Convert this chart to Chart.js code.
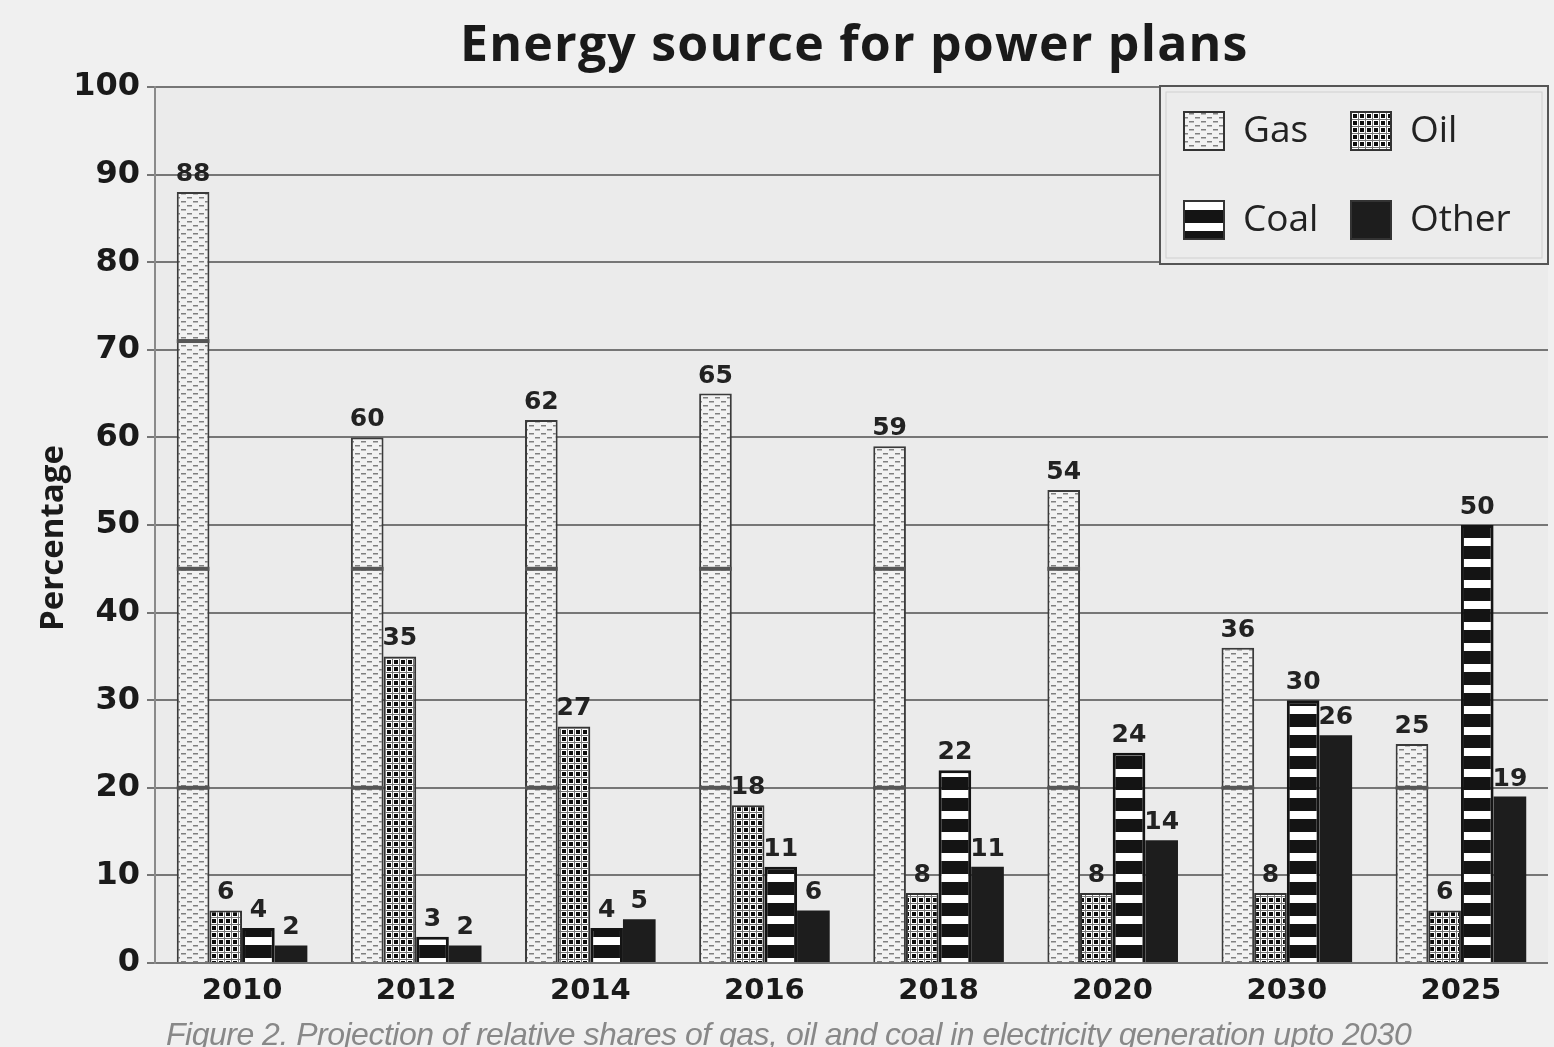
<!DOCTYPE html>
<html>
<head>
<meta charset="utf-8">
<script src="https://cdn.jsdelivr.net/npm/chart.js@4.4.1/dist/chart.umd.min.js"></script>
<style>
  html, body { margin: 0; padding: 0; background: #f0f0f0; overflow: hidden; }
  #wrap { position: relative; width: 1554px; height: 1047px; }
  #caption {
    position: absolute; left: 166px; top: 1016px;
    font-family: "Liberation Sans", sans-serif;
    font-style: italic; font-size: 32px; color: #888; white-space: nowrap;
    letter-spacing: -0.5px;
  }
</style>
</head>
<body>
<div id="wrap">
  <canvas id="energy_chart" width="1554" height="1047"></canvas>
  <div id="caption">Figure 2. Projection of relative shares of gas, oil and coal in electricity generation upto 2030</div>
</div>
<script>
var chart_title = "Energy source for power plans";
var y_title = "Percentage";
var years = ["2010", "2012", "2014", "2016", "2018", "2020", "2030", "2025"];
var gas_data = [88, 60, 62, 65, 59, 54, 36, 25];
var oil_data = [6, 35, 27, 18, 8, 8, 8, 6];
var coal_data = [4, 3, 4, 11, 22, 24, 30, 50];
var other_data = [2, 2, 5, 6, 11, 14, 26, 19];
var y_ticks = [0, 10, 20, 30, 40, 50, 60, 70, 80, 90, 100];
// dark seams seen across the gas bars
var gas_seams = [20, 45, 71];

function tile(w, h, draw) {
    var c = document.createElement("canvas");
    c.width = w; c.height = h;
    var g = c.getContext("2d");
    draw(g);
    return g.createPattern(c, "repeat");
}

var gasFill = tile(12, 8, function (g) {
    g.fillStyle = "#f2f2f2"; g.fillRect(0, 0, 12, 8);
    g.fillStyle = "#808080";
    g.fillRect(1, 1, 5, 1.5);
    g.fillRect(7, 5, 5, 1.5);
});
var oilFill = tile(7, 7, function (g) {
    g.fillStyle = "#ffffff"; g.fillRect(0, 0, 7, 7);
    g.fillStyle = "#777";
    g.fillRect(0, 0, 7, 1); g.fillRect(0, 0, 1, 7);
    g.fillStyle = "#0c0c0c";
    g.fillRect(2, 2, 4, 4);
});
var coalFill = tile(4, 21, function (g) {
    g.fillStyle = "#141414"; g.fillRect(0, 0, 4, 13);
    g.fillStyle = "#ffffff"; g.fillRect(0, 13, 4, 8);
});

var plotBg = {
    id: "plotBg",
    beforeDraw: function (chart) {
        var a = chart.chartArea, ctx = chart.ctx;
        ctx.save();
        ctx.fillStyle = "#ebebeb";
        ctx.fillRect(a.left, a.top, a.right - a.left, a.bottom - a.top);
        ctx.restore();
    }
};

var titles = {
    id: "titles",
    afterDraw: function (chart) {
        var ctx = chart.ctx, a = chart.chartArea;
        ctx.save();
        ctx.fillStyle = "#1a1a1a";
        ctx.font = "bold 50px 'Open Sans'";
        ctx.letterSpacing = "1.2px";
        ctx.textAlign = "left";
        ctx.textBaseline = "alphabetic";
        ctx.fillText(chart_title, 460, 61);
        ctx.letterSpacing = "0px";
        ctx.font = "bold 33px 'Open Sans'";
        ctx.translate(54, (a.top + a.bottom) / 2 + 13);
        ctx.rotate(-Math.PI / 2);
        ctx.textAlign = "center";
        ctx.textBaseline = "middle";
        ctx.fillText(y_title, 0, 0);
        ctx.restore();
    }
};

var seams = {
    id: "seams",
    afterDatasetsDraw: function (chart) {
        var ctx = chart.ctx, y = chart.scales.y;
        var meta = chart.getDatasetMeta(0);
        ctx.save();
        ctx.fillStyle = "#555";
        meta.data.forEach(function (bar, i) {
            gas_seams.forEach(function (s) {
                if (gas_data[i] > s + 1) {
                    ctx.fillRect(bar.x - bar.width / 2, y.getPixelForValue(s) - 2, bar.width, 4);
                }
            });
        });
        ctx.restore();
    }
};

var barLabels = {
    id: "barLabels",
    afterDatasetsDraw: function (chart) {
        var ctx = chart.ctx;
        ctx.save();
        ctx.font = "bold 25px 'DejaVu Sans'";
        ctx.fillStyle = "#222";
        ctx.textAlign = "center";
        ctx.textBaseline = "bottom";
        chart.data.datasets.forEach(function (ds, d) {
            chart.getDatasetMeta(d).data.forEach(function (bar, i) {
                ctx.fillText(ds.data[i], bar.x, bar.y - 5);
            });
        });
        ctx.restore();
    }
};

var boxLegend = {
    id: "boxLegend",
    afterDraw: function (chart) {
        var ctx = chart.ctx, a = chart.chartArea;
        var x0 = a.right - 388, y0 = a.top - 1, w = 388, h = 178;
        ctx.save();
        ctx.fillStyle = "#ececec";
        ctx.fillRect(x0, y0, w, h);
        ctx.strokeStyle = "#555"; ctx.lineWidth = 2;
        ctx.strokeRect(x0, y0, w, h);
        ctx.strokeStyle = "#d0d0d0"; ctx.lineWidth = 1;
        ctx.strokeRect(x0 + 6, y0 + 6, w - 12, h - 12);
        var ds = chart.data.datasets;
        var spots = [[23, 45], [190, 45], [23, 134], [190, 134]];
        ctx.font = "37px 'Open Sans'";
        ctx.textBaseline = "middle";
        ds.forEach(function (d, i) {
            var sx = x0 + spots[i][0], sy = y0 + spots[i][1];
            ctx.fillStyle = d.backgroundColor;
            ctx.fillRect(sx, sy - 20, 42, 40);
            ctx.strokeStyle = "#333"; ctx.lineWidth = 2;
            ctx.strokeRect(sx + 1, sy - 19, 40, 38);
            ctx.fillStyle = "#222";
            ctx.fillText(d.label, sx + 60, sy);
        });
        ctx.restore();
    }
};

new Chart(document.getElementById("energy_chart"), {
    type: "bar",
    data: {
        labels: years,
        datasets: [
            { label: "Gas", data: gas_data, backgroundColor: gasFill, borderColor: "#3a3a3a", borderWidth: 2 },
            { label: "Oil", data: oil_data, backgroundColor: oilFill, borderColor: "#333", borderWidth: 2 },
            { label: "Coal", data: coal_data, backgroundColor: coalFill, borderColor: "#141414", borderWidth: 3 },
            { label: "Other", data: other_data, backgroundColor: "#1d1d1d", borderWidth: 0 }
        ]
    },
    options: {
        responsive: false,
        animation: false,
        layout: { padding: { left: 0, right: 6, top: 87, bottom: 0 } },
        categoryPercentage: 0.75,
        barPercentage: 1,
        plugins: {
            legend: { display: false },
            tooltip: { enabled: false },
            title: { display: false }
        },
        scales: {
            x: {
                grid: { display: false },
                border: { display: false },
                ticks: { color: "#1a1a1a", padding: 3, font: { family: "'DejaVu Sans'", weight: "bold", size: 29 } },
                afterFit: function (s) { s.height = 84; }
            },
            y: {
                min: 0, max: 100,
                afterBuildTicks: function (s) { s.ticks = y_ticks.map(function (v) { return { value: v }; }); },
                grid: { color: "#767676", lineWidth: 2, tickLength: 8 },
                border: { display: true, color: "#8a8a8a", width: 2 },
                ticks: { color: "#1a1a1a", padding: 7, font: { family: "'DejaVu Sans'", weight: "bold", size: 32 } },
                title: { display: false },
                afterFit: function (s) { s.width = 155; }
            }
        }
    },
    plugins: [plotBg, seams, barLabels, boxLegend, titles]
});
</script>
</body>
</html>
